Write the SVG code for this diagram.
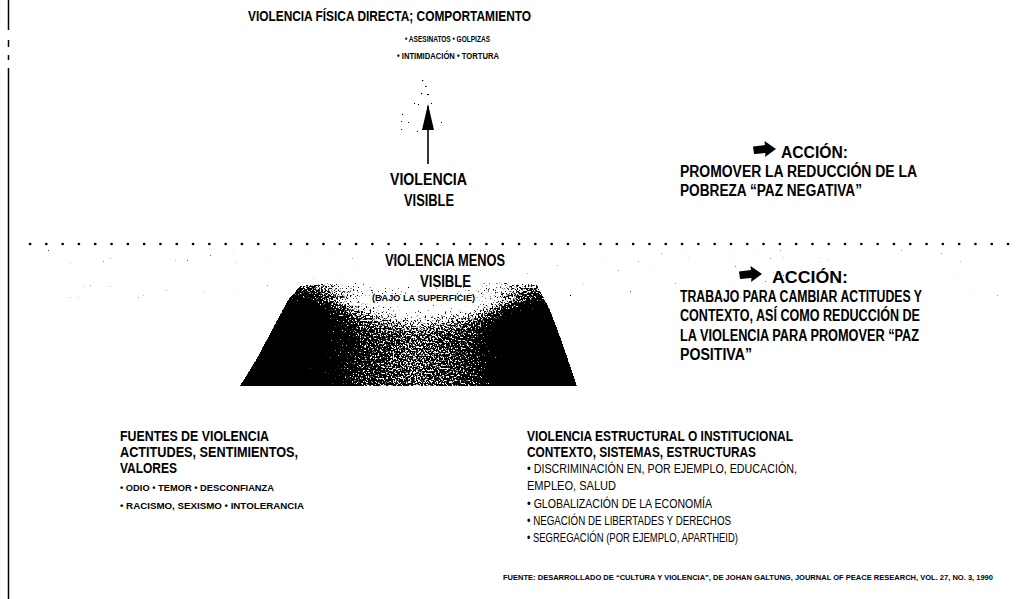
<svg xmlns="http://www.w3.org/2000/svg" width="1030" height="599" viewBox="0 0 1030 599">
  <style>
    text { font-family: "Liberation Sans", "DejaVu Sans", sans-serif; fill: #000; }
    .tt { font-size: 15px; font-weight: bold; }
    .hd { font-size: 14.5px; font-weight: bold; }
    .bd { font-size: 16px; font-weight: bold; }
    .sm { font-size: 9.5px; font-weight: bold; }
    .it { font-size: 12.5px; }
    .ft { font-size: 8px; font-weight: bold; }
  </style>
  <defs>
    <!-- block arrow used before each "ACCIÓN:" heading -->
    <path id="blockArrow" d="M0,5.5 L12,4 L11.5,0 L23,8 L12,16 L12.5,12 L1,13 Z"/>
    <!-- narrow filled head for the upward arrow -->
    <marker id="upHead" viewBox="0 0 26 12" refX="24" refY="6" markerWidth="26" markerHeight="12" markerUnits="userSpaceOnUse" orient="auto">
      <path d="M0,0 L26,6 L0,12 Z"/>
    </marker>
    <!-- stipple texture: darkness is carried in alpha, thresholded against noise -->
    <filter id="stipple" filterUnits="userSpaceOnUse" x="0" y="246" width="1030" height="150">
      <feTurbulence type="fractalNoise" baseFrequency="0.6" numOctaves="2" seed="7" result="noise"/>
      <feColorMatrix in="noise" type="matrix" values="0 0 0 0 0  0 0 0 0 0  0 0 0 0 0  1 0 0 0 0" result="noiseA"/>
      <feComposite in="SourceAlpha" in2="noiseA" operator="arithmetic" k1="0" k2="10" k3="10" k4="-10"/>
    </filter>
    <!-- dark flanks, lighter core -->
    <linearGradient id="pyrFlanks" x1="0" y1="0" x2="1" y2="0">
      <stop offset="0" stop-color="#000" stop-opacity="1"/>
      <stop offset="0.22" stop-color="#000" stop-opacity="0.95"/>
      <stop offset="0.36" stop-color="#000" stop-opacity="0.68"/>
      <stop offset="0.52" stop-color="#000" stop-opacity="0.58"/>
      <stop offset="0.68" stop-color="#000" stop-opacity="0.68"/>
      <stop offset="0.8" stop-color="#000" stop-opacity="0.95"/>
      <stop offset="1" stop-color="#000" stop-opacity="1"/>
    </linearGradient>
    <!-- fades the upper middle towards white -->
    <radialGradient id="pyrFade" gradientUnits="userSpaceOnUse" cx="428" cy="282" r="150" gradientTransform="translate(428 282) scale(1 0.36) translate(-428 -282)">
      <stop offset="0" stop-color="#1a1a1a"/>
      <stop offset="0.5" stop-color="#6a6a6a"/>
      <stop offset="0.8" stop-color="#d8d8d8"/>
      <stop offset="1" stop-color="#fff"/>
    </radialGradient>
    <!-- softens the top rim of the iceberg -->
    <linearGradient id="rimFade" x1="0" y1="282" x2="0" y2="305" gradientUnits="userSpaceOnUse">
      <stop offset="0" stop-color="#888"/>
      <stop offset="1" stop-color="#fff"/>
    </linearGradient>
    <mask id="pyrMask" maskUnits="userSpaceOnUse" x="0" y="240" width="1030" height="160">
      <rect x="0" y="240" width="1030" height="160" fill="url(#pyrFade)"/>
    </mask>
    <mask id="rimMask" maskUnits="userSpaceOnUse" x="0" y="240" width="1030" height="160">
      <rect x="0" y="240" width="1030" height="160" fill="url(#rimFade)"/>
    </mask>
  </defs>

  <!-- page edge rule on the left -->
  <g id="page-edge" stroke="#000" stroke-width="1.5">
    <line x1="8.5" y1="0" x2="8.5" y2="30"/>
    <line x1="8.5" y1="40" x2="8.5" y2="47"/>
    <line x1="8.5" y1="55" x2="8.5" y2="60"/>
    <line x1="8.5" y1="68" x2="8.5" y2="599"/>
  </g>

  <!-- surface line separating visible from less visible violence -->
  <line id="surface-line" x1="30" y1="244" x2="1022" y2="244" stroke="#000" stroke-width="2.6" stroke-linecap="round" stroke-dasharray="0.1 16.2"/>

  <!-- stippled iceberg below the surface, with scattered specks -->
  <g id="iceberg" filter="url(#stipple)">
    <rect x="30" y="250" width="990" height="48" fill="#000" fill-opacity="0.2"/>
    <g mask="url(#rimMask)">
      <g mask="url(#pyrMask)">
        <polygon points="240,386 256,360 272,330 288,300 300,286 330,283 420,284 500,282 537,285 550,310 563,345 577,386" fill="url(#pyrFlanks)"/>
      </g>
    </g>
  </g>

  <!-- top block: direct physical violence -->
  <g id="direct-violence">
    <text class="tt" x="248" y="21" textLength="283" lengthAdjust="spacingAndGlyphs">VIOLENCIA FÍSICA DIRECTA; COMPORTAMIENTO</text>
    <text class="sm" x="405" y="42" textLength="85" lengthAdjust="spacingAndGlyphs">• ASESINATOS • GOLPIZAS</text>
    <text class="sm" x="397" y="59" textLength="102" lengthAdjust="spacingAndGlyphs">• INTIMIDACIÓN • TORTURA</text>
  </g>

  <!-- connectors -->
  <g id="connectors">
    <line x1="428" y1="164" x2="428" y2="106" stroke="#000" stroke-width="1.6" marker-end="url(#upHead)"/>
    <g id="arrow-specks" fill="#000">
      <rect x="422" y="80" width="1.2" height="1.2"/>
      <rect x="425" y="86" width="1.5" height="1"/>
      <rect x="421" y="93" width="1.2" height="1.2"/>
      <rect x="427" y="94" width="2" height="1"/>
      <rect x="414" y="103" width="1" height="1"/>
      <rect x="418" y="104" width="1" height="1"/>
      <rect x="431" y="103" width="1" height="1"/>
      <rect x="402" y="114" width="1" height="1"/>
      <rect x="401" y="121" width="1" height="1"/>
      <rect x="408" y="122" width="1" height="1"/>
      <rect x="441" y="122" width="1" height="1"/>
      <rect x="401" y="129" width="1" height="1"/>
      <rect x="417" y="131" width="1" height="1"/>
    </g>
  </g>

  <g id="visible-violence">
    <text class="bd" x="390" y="185" textLength="77" lengthAdjust="spacingAndGlyphs">VIOLENCIA</text>
    <text class="bd" x="404" y="206" textLength="50" lengthAdjust="spacingAndGlyphs">VISIBLE</text>
  </g>

  <g id="action-negative-peace">
    <use href="#blockArrow" x="753" y="141"/>
    <text class="bd" x="781" y="158" textLength="67" lengthAdjust="spacingAndGlyphs">ACCIÓN:</text>
    <text class="bd" x="680" y="177" textLength="237" lengthAdjust="spacingAndGlyphs">PROMOVER LA REDUCCIÓN DE LA</text>
    <text class="bd" x="680" y="196" textLength="182" lengthAdjust="spacingAndGlyphs">POBREZA “PAZ NEGATIVA”</text>
  </g>

  <g id="less-visible-violence">
    <text class="bd" x="385" y="266" textLength="120" lengthAdjust="spacingAndGlyphs">VIOLENCIA MENOS</text>
    <text class="bd" x="420" y="287" textLength="51" lengthAdjust="spacingAndGlyphs">VISIBLE</text>
    <text class="sm" x="372" y="301" textLength="103" lengthAdjust="spacingAndGlyphs">(BAJO LA SUPERFICIE)</text>
  </g>

  <g id="action-positive-peace">
    <use href="#blockArrow" x="739" y="266"/>
    <text class="bd" x="772" y="283" textLength="76" lengthAdjust="spacingAndGlyphs">ACCIÓN:</text>
    <text class="bd" x="680" y="302" textLength="242" lengthAdjust="spacingAndGlyphs">TRABAJO PARA CAMBIAR ACTITUDES Y</text>
    <text class="bd" x="680" y="321" textLength="240" lengthAdjust="spacingAndGlyphs">CONTEXTO, ASÍ COMO REDUCCIÓN DE</text>
    <text class="bd" x="680" y="341" textLength="239" lengthAdjust="spacingAndGlyphs">LA VIOLENCIA PARA PROMOVER “PAZ</text>
    <text class="bd" x="680" y="360" textLength="72" lengthAdjust="spacingAndGlyphs">POSITIVA”</text>
  </g>

  <g id="cultural-sources">
    <text class="hd" x="120" y="441" textLength="149" lengthAdjust="spacingAndGlyphs">FUENTES DE VIOLENCIA</text>
    <text class="hd" x="120" y="457" textLength="178" lengthAdjust="spacingAndGlyphs">ACTITUDES, SENTIMIENTOS,</text>
    <text class="hd" x="120" y="473" textLength="57" lengthAdjust="spacingAndGlyphs">VALORES</text>
    <text class="sm" x="120" y="491" textLength="154" lengthAdjust="spacingAndGlyphs">• ODIO • TEMOR • DESCONFIANZA</text>
    <text class="sm" x="120" y="509" textLength="184" lengthAdjust="spacingAndGlyphs">• RACISMO, SEXISMO • INTOLERANCIA</text>
  </g>

  <g id="structural-violence">
    <text class="hd" x="527" y="441" textLength="266" lengthAdjust="spacingAndGlyphs">VIOLENCIA ESTRUCTURAL O INSTITUCIONAL</text>
    <text class="hd" x="527" y="457" textLength="229" lengthAdjust="spacingAndGlyphs">CONTEXTO, SISTEMAS, ESTRUCTURAS</text>
    <text class="it" x="527" y="473" textLength="270" lengthAdjust="spacingAndGlyphs">• DISCRIMINACIÓN EN, POR EJEMPLO, EDUCACIÓN,</text>
    <text class="it" x="527" y="490" textLength="89" lengthAdjust="spacingAndGlyphs">EMPLEO, SALUD</text>
    <text class="it" x="527" y="508" textLength="185" lengthAdjust="spacingAndGlyphs">• GLOBALIZACIÓN DE LA ECONOMÍA</text>
    <text class="it" x="527" y="525" textLength="204" lengthAdjust="spacingAndGlyphs">• NEGACIÓN DE LIBERTADES Y DERECHOS</text>
    <text class="it" x="527" y="542" textLength="211" lengthAdjust="spacingAndGlyphs">• SEGREGACIÓN (POR EJEMPLO, APARTHEID)</text>
  </g>

  <!-- source credit -->
  <g id="source-note">
    <text class="ft" x="503" y="580" textLength="490" lengthAdjust="spacingAndGlyphs">FUENTE: DESARROLLADO DE “CULTURA Y VIOLENCIA”, DE JOHAN GALTUNG, JOURNAL OF PEACE RESEARCH, VOL. 27, NO. 3, 1990</text>
  </g>
</svg>
